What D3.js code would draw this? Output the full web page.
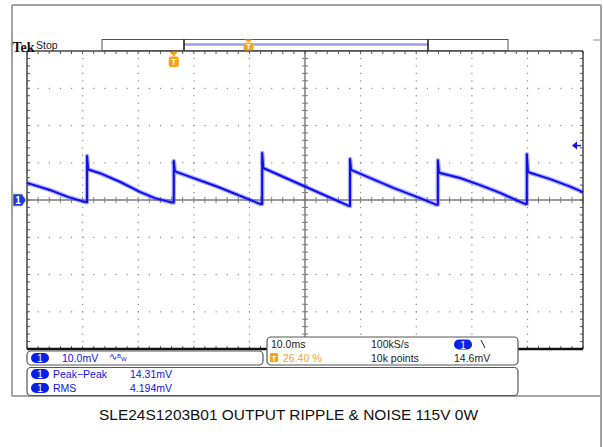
<!DOCTYPE html>
<html>
<head>
<meta charset="utf-8">
<script src="https://cdn.jsdelivr.net/npm/d3@7"></script>
<style>
  body { margin: 0; background: #fff; }
  svg { display: block; }
  text { font-family: "Liberation Sans", Arial, sans-serif; }
</style>
</head>
<body>
<svg width="603" height="447"></svg>
<script>
// waveform: time in ms, level in mV
const waveTimes = [0, 4.1, 7.2, 10.3, 10.8, 10.8, 11.0, 13.1, 16.7, 20.3, 23.0, 26.1, 26.4, 26.4, 26.6,
  34.4, 42.0, 42.3, 42.3, 42.5, 50.2, 57.9, 58.1, 58.1, 58.3, 66.0, 70.7, 73.7, 73.9, 73.9, 74.1,
  77.9, 81.5, 85.1, 88.7, 89.7, 89.9, 89.9, 90.1, 94.1, 97.7, 100];
const waveMv = [4.6, 2.7, 0.9, -0.5, -0.6, 11.8, 8.2, 7.2, 4.9, 2.2, 0.5, -0.7, -0.7, 10.5, 7.7,
  3.5, -1.1, -1.1, 12.6, 8.6, 3.5, -1.6, -1.6, 11.0, 8.1, 3.2, 0.5, -1.3, -1.3, 10.7, 7.3,
  5.9, 4.0, 1.9, -0.5, -1.1, -1.1, 12.3, 7.5, 5.6, 3.6, 2.1];

// scope settings
const timeDiv = 10;      // ms / div
const voltDiv = 10;      // mV / div
const hDivs = 10;
const vDivs = 8;
const triggerPct = 26.4;
const triggerLevel = 14.6;
const recordWindow = [20.2, 80.3];

const channelLabel = "10.0mV";
const timeLabels = ["10.0ms", "100kS/s", "14.6mV"];
const infoLabels = ["26.40 %", "10k points"];
const measNames = ["Peak\u2212Peak", "RMS"];
const measValues = ["14.31mV", "4.194mV"];
const titleText = "SLE24S1203B01 OUTPUT RIPPLE & NOISE 115V 0W";

const blue = "#1212e8";
const orange = "#f5a21f";

const svg = d3.select("svg");

// graticule area
const gLeft = 27, gRight = 583, gTop = 51, gBottom = 349;

const x = d3.scaleLinear()
  .domain([0, hDivs * timeDiv])
  .range([gLeft, gRight]);
const y = d3.scaleLinear()
  .domain([-vDivs / 2 * voltDiv, vDivs / 2 * voltDiv])
  .range([gBottom, gTop]);

// outer screen frame
const frame = svg.append("g").attr("stroke", "#a3a3a3").attr("stroke-width", 2);
frame.append("line").attr("x1", 12).attr("x2", 601).attr("y1", 5).attr("y2", 5);
frame.append("line").attr("x1", 12).attr("x2", 12).attr("y1", 5).attr("y2", 396);
frame.append("line").attr("x1", 601).attr("x2", 601).attr("y1", 5).attr("y2", 447);
frame.append("line").attr("x1", 12).attr("x2", 601).attr("y1", 396).attr("y2", 396);
svg.append("line").attr("x1", 593).attr("x2", 600).attr("y1", 40).attr("y2", 40)
  .attr("stroke", "#9fb8c8").attr("stroke-width", 1.5);

// dotted grid
const grid = svg.append("g").attr("fill", "#8a8a8a");
const minorX = d3.range(0, hDivs * timeDiv + 0.01, timeDiv / 5);
const minorY = d3.range(-vDivs / 2 * voltDiv, vDivs / 2 * voltDiv + 0.01, voltDiv / 5);
const majorX = d3.range(1, hDivs).map(i => i * timeDiv);
const majorY = d3.range(1, vDivs).map(i => (i - vDivs / 2) * voltDiv);
majorY.forEach(v => {
  if (v == 0) return;
  minorX.forEach(t => {
    grid.append("rect").attr("x", x(t) - 0.5).attr("y", y(v) - 0.5).attr("width", 1.2).attr("height", 1.2);
  });
});
majorX.forEach(t => {
  if (t == hDivs * timeDiv / 2) return;
  minorY.forEach(v => {
    grid.append("rect").attr("x", x(t) - 0.5).attr("y", y(v) - 0.5).attr("width", 1.2).attr("height", 1.2);
  });
});

// center cross with ticks
const cross = svg.append("g").attr("stroke", "#7c7c7c");
cross.append("line").attr("x1", gLeft).attr("x2", gRight).attr("y1", y(0)).attr("y2", y(0)).attr("stroke-width", 1.5);
cross.append("line").attr("x1", x(50)).attr("x2", x(50)).attr("y1", gTop).attr("y2", gBottom).attr("stroke-width", 1.5);
minorX.forEach(t => {
  cross.append("line").attr("x1", x(t)).attr("x2", x(t)).attr("y1", y(0) - 3).attr("y2", y(0) + 3);
});
minorY.forEach(v => {
  cross.append("line").attr("x1", x(50) - 3).attr("x2", x(50) + 3).attr("y1", y(v)).attr("y2", y(v));
});

// edge ticks
const edge = svg.append("g").attr("stroke", "#555");
minorX.forEach(t => {
  edge.append("line").attr("x1", x(t)).attr("x2", x(t)).attr("y1", gTop).attr("y2", gTop + 3);
  edge.append("line").attr("x1", x(t)).attr("x2", x(t)).attr("y1", gBottom - 3).attr("y2", gBottom);
});
minorY.forEach(v => {
  edge.append("line").attr("x1", gLeft).attr("x2", gLeft + 3).attr("y1", y(v)).attr("y2", y(v));
  edge.append("line").attr("x1", gRight - 3).attr("x2", gRight).attr("y1", y(v)).attr("y2", y(v));
});

// graticule border
svg.append("line").attr("x1", gLeft).attr("x2", gRight).attr("y1", gTop).attr("y2", gTop).attr("stroke", "#444").attr("stroke-width", 1.5);
svg.append("line").attr("x1", gLeft).attr("x2", gLeft).attr("y1", gTop).attr("y2", gBottom).attr("stroke", "#444").attr("stroke-width", 1.5);
svg.append("line").attr("x1", gRight).attr("x2", gRight).attr("y1", gTop).attr("y2", gBottom).attr("stroke", "#444").attr("stroke-width", 1.5);
svg.append("line").attr("x1", gLeft).attr("x2", gRight).attr("y1", gBottom).attr("y2", gBottom).attr("stroke", "#111").attr("stroke-width", 2.5);

// waveform
const wave = waveTimes.map((t, i) => [t, waveMv[i]]);
const line = d3.line().x(d => x(d[0])).y(d => y(d[1]));
svg.append("path").datum(wave).attr("d", line)
  .attr("fill", "none").attr("stroke", "#5a5aff").attr("stroke-width", 4.5).attr("stroke-opacity", 0.5)
  .attr("stroke-linejoin", "round");
svg.append("path").datum(wave).attr("d", line)
  .attr("fill", "none").attr("stroke", "#0c0cf0").attr("stroke-width", 2)
  .attr("stroke-linejoin", "round");

// channel 1 ground marker
const gy = y(0);
svg.append("path")
  .attr("d", `M13,${gy - 6} L22,${gy - 6} L26,${gy} L22,${gy + 6} L13,${gy + 6} Z`)
  .attr("fill", "#1a3ae6").attr("stroke", "#c8c070").attr("stroke-width", 0.8);
svg.append("text").attr("x", 18).attr("y", gy + 4).attr("text-anchor", "middle")
  .attr("fill", "#fff").attr("font-size", 10).attr("font-weight", "bold").text("1");

// trigger level arrow
const ty = y(triggerLevel);
svg.append("path").attr("d", `M572,${ty} L577,${ty - 4} L577,${ty + 4} Z`).attr("fill", blue);
svg.append("line").attr("x1", 576).attr("x2", 581).attr("y1", ty).attr("y2", ty).attr("stroke", blue).attr("stroke-width", 1.5);

// trigger position marker
function triggerMark(cx, ytop, h) {
  const g = svg.append("g");
  g.append("path").attr("d", `M${cx - 4},${ytop} L${cx + 4},${ytop} L${cx},${ytop + h * 0.3} Z`).attr("fill", orange);
  g.append("rect").attr("x", cx - 5).attr("y", ytop + h * 0.3).attr("width", 10).attr("height", h * 0.7)
    .attr("rx", 2).attr("fill", orange);
  g.append("text").attr("x", cx).attr("y", ytop + h - 2).attr("text-anchor", "middle")
    .attr("fill", "#fff").attr("font-size", h * 0.6).attr("font-weight", "bold").text("T");
}
triggerMark(x(triggerPct), gTop + 1, 15);

// record view bar at top
const rec = d3.scaleLinear().domain([0, 100]).range([102, 508]);
svg.append("rect").attr("x", rec(0)).attr("y", 39.5).attr("width", rec(100) - rec(0)).attr("height", 11)
  .attr("fill", "#fff").attr("stroke", "#555");
svg.append("line").attr("x1", rec(recordWindow[0])).attr("x2", rec(recordWindow[1])).attr("y1", 44.5).attr("y2", 44.5)
  .attr("stroke", "#9d9df2").attr("stroke-width", 2.5);
recordWindow.forEach(p => {
  svg.append("line").attr("x1", rec(p)).attr("x2", rec(p)).attr("y1", 39.5).attr("y2", 50.5)
    .attr("stroke", "#111").attr("stroke-width", 1.5);
});
const wx = d3.scaleLinear().domain([0, 100]).range([rec(recordWindow[0]), rec(recordWindow[1])]);
triggerMark(wx(triggerPct), 39.5, 11);

// Tek Stop
svg.append("text").attr("x", 12.5).attr("y", 51.5)
  .attr("font-weight", "bold").attr("font-size", 15.5).attr("fill", "#111")
  .attr("textLength", 22).attr("lengthAdjust", "spacingAndGlyphs")
  .style("font-family", "'Liberation Serif', serif").text("Tek");
svg.append("text").attr("x", 36).attr("y", 49).attr("font-size", 10.5).attr("fill", "#222").text("Stop");

// readout boxes
function box(x0, y0, x1, y1) {
  svg.append("rect").attr("x", x0).attr("y", y0).attr("width", x1 - x0).attr("height", y1 - y0)
    .attr("rx", 4).attr("fill", "#fff").attr("stroke", "#555").attr("stroke-width", 1.2);
}
function pill(cx, cy) {
  svg.append("rect").attr("x", cx - 9).attr("y", cy - 5).attr("width", 18).attr("height", 10)
    .attr("rx", 5).attr("fill", "#0a22e6");
  svg.append("text").attr("x", cx).attr("y", cy + 4).attr("text-anchor", "middle")
    .attr("fill", "#fff").attr("font-size", 10).text("1");
}

// channel box
box(27, 351, 263, 365);
pill(40, 358);
svg.append("text").attr("x", 62).attr("y", 362).attr("font-size", 10.5).attr("fill", blue).text(channelLabel);
const bw = svg.append("text").attr("x", 109).attr("y", 360).attr("font-size", 10).attr("fill", blue);
bw.append("tspan").text("\u223F");
bw.append("tspan").attr("font-size", 6).attr("dy", -2).text("B");
bw.append("tspan").attr("font-size", 6).attr("dy", 3).text("W");

// timebase box
box(267, 337, 518, 365);
svg.append("text").attr("x", 271).attr("y", 348).attr("font-size", 10.5).attr("fill", "#222").text(timeLabels[0]);
svg.append("text").attr("x", 371).attr("y", 348).attr("font-size", 10.5).attr("fill", "#222").text(timeLabels[1]);
pill(463, 344.5);
svg.append("line").attr("x1", 481).attr("x2", 485).attr("y1", 340).attr("y2", 348).attr("stroke", "#222");
svg.append("rect").attr("x", 270).attr("y", 353).attr("width", 8).attr("height", 9).attr("rx", 1).attr("fill", orange);
svg.append("text").attr("x", 274).attr("y", 361).attr("text-anchor", "middle").attr("font-size", 8)
  .attr("fill", "#fff").attr("font-weight", "bold").text("T");
svg.append("text").attr("x", 283).attr("y", 362).attr("font-size", 10.5).attr("fill", orange).text(infoLabels[0]);
svg.append("text").attr("x", 371).attr("y", 362).attr("font-size", 10.5).attr("fill", "#222").text(infoLabels[1]);
svg.append("text").attr("x", 454).attr("y", 362).attr("font-size", 10.5).attr("fill", "#222").text(timeLabels[2]);

// measurement box
box(27, 367.5, 518, 395.5);
measNames.forEach((m, i) => {
  const cy = 374 + i * 14;
  pill(40, cy);
  svg.append("text").attr("x", 53).attr("y", cy + 4).attr("font-size", 10.5).attr("fill", blue).text(m);
  svg.append("text").attr("x", 130).attr("y", cy + 4).attr("font-size", 10.5).attr("fill", blue).text(measValues[i]);
});

// title
svg.append("text").attr("x", 99).attr("y", 419.5)
  .attr("font-size", 14.5).attr("fill", "#111")
  .attr("textLength", 379).attr("lengthAdjust", "spacingAndGlyphs")
  .text(titleText);
</script>
</body>
</html>
